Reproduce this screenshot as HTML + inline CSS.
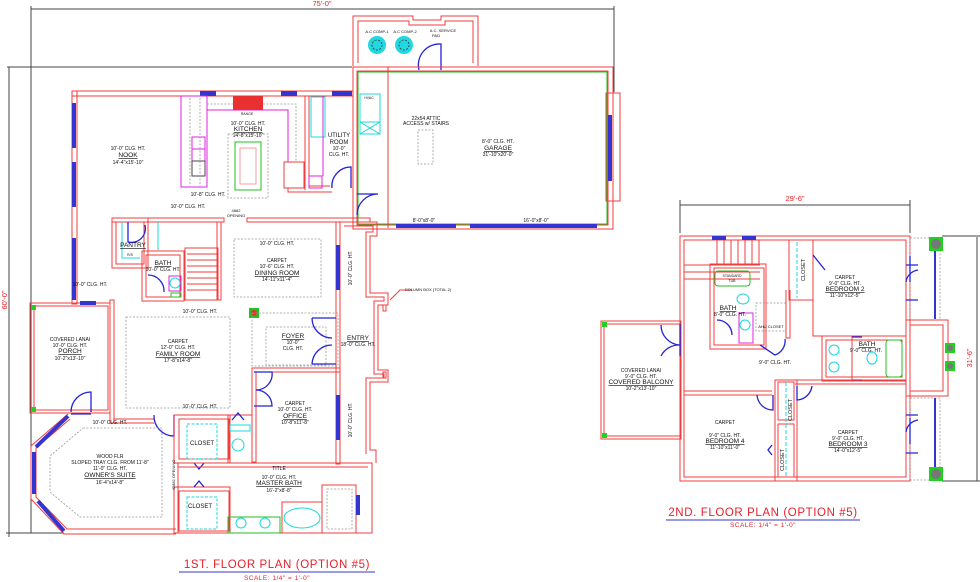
<!DOCTYPE html>
<html><head><meta charset="utf-8"><style>
html,body{margin:0;padding:0;background:#fff;width:980px;height:582px;overflow:hidden}
svg{display:block}
.w{fill:none;stroke:#f03c3c;stroke-width:1}
.r{fill:none;stroke:#f03c3c;stroke-width:1}
.b{fill:#3434d0;stroke:none}
.bl{fill:none;stroke:#2323d8;stroke-width:1.3}
.g{fill:none;stroke:#20c020;stroke-width:1}
.c{fill:none;stroke:#19d8e0;stroke-width:1}
.m{fill:none;stroke:#e020e0;stroke-width:1}
.d{fill:none;stroke:#999;stroke-width:0.8;stroke-dasharray:2,1.5}
.k{fill:none;stroke:#444;stroke-width:1}
text{font-family:"Liberation Sans",sans-serif;font-size:5px;fill:#111;text-anchor:middle}
.u{text-decoration:underline;font-size:6.5px}
.t{fill:#e8202a;font-size:7.5px}
</style></head><body>
<svg width="980" height="582" viewBox="0 0 980 582" xmlns="http://www.w3.org/2000/svg">
<line class="k" x1="31" y1="9" x2="614" y2="9"/>
<line class="k" x1="31" y1="6" x2="31" y2="533"/>
<line class="k" x1="614" y1="6" x2="614" y2="92"/>
<line class="k" x1="7" y1="67" x2="352" y2="67"/>
<line class="k" x1="9" y1="67" x2="9" y2="537"/>
<line class="k" x1="6" y1="533" x2="64" y2="533"/>
<text class="t" x="322" y="6">75'-0"</text>
<text class="t" transform="translate(7,300) rotate(-90)">60'-0"</text>

<path class="w" d="M353,66 V16 H413 V20 H441 V16 H478 V66 M358,63 V21 H409 V25 H445 V21 H473 V63"/>
<circle cx="377" cy="45" r="9" fill="#22d8e0"/><circle cx="377" cy="45" r="5" fill="none" stroke="#333" stroke-width="0.8" stroke-dasharray="2,1.5"/>
<circle cx="404" cy="45" r="9" fill="#22d8e0"/><circle cx="404" cy="45" r="5" fill="none" stroke="#333" stroke-width="0.8" stroke-dasharray="2,1.5"/>
<text x="377" y="33" style="font-size:4px">A.C COMP-1</text><text x="405" y="33" style="font-size:4px">A.C COMP-2</text><text x="443" y="32" style="font-size:4px">A.C. SERVICE</text><text x="436" y="37" style="font-size:4px">PAD</text>
<path class="bl" d="M419,70 A21,21 0 0 1 441,44 V70"/>

<rect class="w" x="353" y="67" width="260" height="162"/>
<rect class="w" x="357" y="71" width="251" height="154"/>
<rect class="g" x="358" y="72" width="249" height="152"/>
<line class="w" x1="388" y1="67" x2="388" y2="228"/>
<rect class="w" x="606" y="93" width="14" height="108"/>
<rect class="b" x="608" y="115" width="4" height="66"/>
<rect class="b" x="396" y="224" width="60" height="4"/><rect class="b" x="470" y="224" width="127" height="4"/>
<rect class="c" x="360" y="94" width="20" height="40"/><path class="c" d="M360,122 L380,134 M380,122 L360,134 M360,122 H380"/>
<text x="369" y="99" style="font-size:3.5px">HVAC</text>
<rect class="d" x="418" y="130" width="15" height="34"/>
<text x="426" y="120">22x54 ATTIC</text><text x="426" y="125">ACCESS w/ STAIRS</text>
<text x="498" y="143">8'-0" CLG. HT.</text><text x="498" y="150" class="u">GARAGE</text><text x="498" y="156">31'-10"x20'-0"</text>
<text x="424" y="222">8'-0"x8'-0"</text><text x="536" y="222">16'-0"x8'-0"</text>
<path class="bl" d="M357,215 A21,21 0 0 1 378,194 H357"/>

<rect class="w" x="72" y="91" width="281" height="5"/>
<rect class="b" x="200" y="91" width="16" height="5"/><rect class="b" x="281" y="91" width="16" height="5"/><rect class="b" x="332" y="91" width="20" height="5"/>
<rect class="w" x="72" y="91" width="5" height="213"/>
<rect class="b" x="72" y="103" width="4" height="45"/><rect class="b" x="72" y="162" width="4" height="45"/><rect class="b" x="72" y="238" width="4" height="62"/>
<text x="128" y="150">10'-0" CLG. HT.</text><text x="128" y="157" class="u">NOOK</text><text x="128" y="164">14'-4"x15'-10"</text>
<rect class="m" x="181" y="96" width="26" height="91"/>
<rect class="m" x="192" y="137" width="13" height="12"/><rect class="m" x="192" y="149" width="13" height="12"/>
<rect class="k" x="192" y="161" width="13" height="15"/>
<path class="m" d="M207,96 V110 H288 V162"/>
<path class="d" d="M190,98 V186 M200,98 V186 M207,104 H296 V162"/>
<rect x="233" y="96" width="30" height="14" fill="#e83030"/>
<text x="247" y="115" style="font-size:3.5px">RANGE</text>
<text x="248" y="125">10'-0" CLG. HT.</text><text x="248" y="131" class="u">KITCHEN</text><text x="248" y="137">14'-8"x15'-10"</text>
<rect class="d" x="228" y="134" width="40" height="64"/>
<rect class="g" x="235" y="142" width="26" height="48"/><rect x="240" y="148" width="16" height="36" fill="none" stroke="#e88" stroke-width="0.8"/>
<rect class="w" x="284" y="162" width="20" height="26"/>
<text x="208" y="196">10'-8" CLG. HT.</text><text x="188" y="208">10'-0" CLG. HT.</text>
<text x="236" y="212" style="font-size:4px">4882</text><text x="236" y="217" style="font-size:4px">OPENING</text>
<path class="w" d="M305,96 V190 M309,96 V186 H330 M288,188 V192 H332"/>
<rect class="c" x="311" y="97" width="14" height="40"/><rect class="m" x="309" y="176" width="13" height="12"/><path class="m" d="M323,96 V176"/>
<text x="339" y="137" style="font-size:6px">UTILITY</text><text x="339" y="144" style="font-size:6px">ROOM</text><text x="339" y="150">10'-0"</text><text x="339" y="156">CLG. HT.</text>
<path class="bl" d="M332,188 A19,19 0 0 1 351,167 V188"/>

<path class="w" d="M112,218 H224 V222 H112 Z M247,218 H370 V222 H247 Z"/>
<rect class="w" x="112" y="218" width="36" height="50"/><rect class="w" x="116" y="222" width="28" height="42"/>
<path class="c" d="M122,222 V258 H140 M158,222 V250"/>
<path class="bl" d="M128,222 V242 A14,14 0 0 0 145,225"/>
<text x="133" y="247" class="u">PANTRY</text><text x="130" y="256" style="font-size:3.5px">R/S</text>
<rect class="w" x="142" y="251" width="42" height="50"/><rect class="w" x="146" y="255" width="34" height="42"/>
<rect class="m" x="169" y="276" width="12" height="15"/><circle class="c" cx="175" cy="283" r="5"/><rect class="g" x="171" y="293" width="10" height="4"/>
<text x="163" y="265" class="u">BATH</text><text x="163" y="271">10'-0" CLG. HT.</text>
<path class="bl" d="M148,275 A16,16 0 0 1 164,292"/>
<rect class="w" x="185" y="248" width="33" height="52"/>
<path class="r" d="M187,254 H217 M187,260 H217 M187,266 H217 M187,272 H217 M187,278 H217 M187,284 H217 M187,290 H217"/>
<rect class="w" x="217" y="222" width="4" height="78"/>
<text x="90" y="286">10'-0" CLG. HT.</text>
<rect class="d" x="234" y="239" width="87" height="58"/>
<text x="277" y="245">10'-0" CLG. HT.</text><text x="277" y="262">CARPET</text><text x="277" y="268">10'-6" CLG. HT.</text><text x="277" y="275" class="u">DINING ROOM</text><text x="277" y="281">14'-11"x11'-4"</text>
<rect class="w" x="336" y="222" width="4" height="242"/>
<rect class="b" x="336" y="245" width="4" height="45"/><rect class="b" x="336" y="395" width="4" height="45"/>
<path class="w" d="M340,222 H377 V236 H370 V293 H388 V305 H378 V370 H388 V382 H370 V450 H376 V463 M344,226 H373 V232 H366 V297 H384 V301 H374 V374 H384 V378 H366 V454"/>
<rect class="w" x="383" y="305" width="3" height="6"/><rect class="w" x="383" y="372" width="3" height="6"/>
<text transform="translate(352,268) rotate(-90)">10'-0" CLG. HT.</text>
<text transform="translate(352,420) rotate(-90)">10'-0" CLG. HT.</text>
<text x="358" y="340" class="u">ENTRY</text><text x="358" y="346">18'-0" CLG. HT.</text>
<path d="M390,300 L400,290 H412" fill="none" stroke="#f03c3c"/><text x="428" y="291" style="font-size:4px">COLUMN BOX (TOTAL 2)</text>
<rect x="249" y="308" width="10" height="10" fill="#22c022"/><circle cx="254" cy="313" r="3" fill="#e83030"/>
<rect class="d" x="252" y="313" width="86" height="53"/><rect class="d" x="266" y="327" width="60" height="38"/>
<text x="293" y="338" class="u">FOYER</text><text x="293" y="344">10'-0"</text><text x="293" y="350">CLG. HT.</text>
<path class="bl" d="M312,318 H336 M312,364 H336 M312,318 A20,20 0 0 0 332,338 M312,364 A20,20 0 0 1 332,345"/>
<rect class="d" x="126" y="317" width="104" height="91"/>
<text x="200" y="313">10'-0" CLG. HT.</text><text x="178" y="343">CARPET</text><text x="178" y="349">12'-0" CLG. HT.</text><text x="178" y="356" class="u">FAMILY ROOM</text><text x="178" y="362">17'-8"x14'-8"</text>
<rect class="w" x="30" y="303" width="80" height="110"/><rect class="w" x="34" y="306" width="74" height="104"/>
<rect class="w" x="110" y="300" width="4" height="123"/>
<rect x="31" y="305" width="5" height="5" fill="#22d022"/><rect x="31" y="407" width="5" height="5" fill="#22d022"/>
<rect class="b" x="80" y="301" width="16" height="4"/>
<text x="70" y="341">COVERED LANAI</text><text x="70" y="347">10'-0" CLG. HT.</text><text x="70" y="353" class="u">PORCH</text><text x="70" y="360">10'-2"x13'-10"</text>
<path class="bl" d="M71,412 A20,20 0 0 1 91,392 V412 M71,414 H91"/>
<path class="w" d="M252,368 H340 V372 H256 V462 H252 Z"/>
<path class="bl" d="M254,372 H272 A16,16 0 0 1 256,390 A16,16 0 0 1 272,406 H254"/>
<text x="295" y="405">CARPET</text><text x="295" y="411">10'-0" CLG. HT.</text><text x="295" y="418" class="u">OFFICE</text><text x="295" y="424">10'-8"x11'-8"</text>
<text x="200" y="408">10'-0" CLG. HT.</text>
<path class="w" d="M110,413 V423 H154 M114,417 V419 H154"/>
<path class="bl" d="M154,415 A20,20 0 0 0 174,436 V415"/>
<rect class="w" x="174" y="415" width="56" height="48"/><rect class="w" x="179" y="419" width="50" height="40"/>
<rect class="c" x="187" y="424" width="30" height="35" stroke-dasharray="3,1.5"/>
<text x="202" y="445" style="font-size:6px">CLOSET</text>
<rect class="w" x="228" y="415" width="24" height="48"/><rect class="c" x="230" y="425" width="20" height="6"/><circle class="c" cx="238" cy="445" r="6"/>
<path class="bl" d="M232,420 L238,413 L244,420"/>
<rect class="w" x="174" y="487" width="56" height="46"/><rect class="w" x="179" y="491" width="50" height="40"/>
<rect class="c" x="187" y="497" width="30" height="32" stroke-dasharray="3,1.5"/>
<text x="200" y="508" style="font-size:6px">CLOSET</text>
<path class="bl" d="M194,463 L199,469 L204,463 M194,487 L199,481 L204,487"/>
<path class="w" d="M174,463 H372 V533 H174 M178,467 H368"/>
<rect class="w" x="178" y="463" width="194" height="70"/>
<rect class="w" x="282" y="502" width="40" height="31"/><ellipse class="c" cx="302" cy="518" rx="18" ry="10"/>
<rect class="w" x="322" y="485" width="34" height="48"/><rect class="d" x="327" y="489" width="25" height="40"/>
<rect class="g" x="228" y="517" width="52" height="16"/><circle class="c" cx="241" cy="523" r="5"/><circle class="c" cx="265" cy="523" r="5"/>
<rect class="b" x="356" y="495" width="4" height="20"/>
<text x="279" y="470">TITLE</text><text x="279" y="479">10'-0" CLG. HT.</text><text x="279" y="485" class="u">MASTER BATH</text><text x="279" y="492">16'-2"x8'-8"</text>
<text transform="translate(175,475) rotate(-90)" style="font-size:4px">42882 OPENING</text>
<path class="w" d="M68,414 L31,446 V499 L64,534 H176 M70,419 L36,448 V497 L67,529 H176"/>
<path d="M68,416 L36,447 M34,452 V494 M38,501 L64,531" stroke="#3434d0" stroke-width="4" fill="none"/>
<path class="d" d="M83,428 H162 V517 H80 L50,492 V456 Z"/>
<text x="110" y="424">10'-0" CLG. HT.</text><text x="110" y="458">WOOD FLR</text><text x="110" y="464">SLOPED TRAY CLG. FROM 11'-8"</text><text x="110" y="470">11'-0" CLG. HT.</text><text x="110" y="477" class="u">OWNER'S SUITE</text><text x="110" y="484">16'-4"x14'-8"</text>
<text x="277" y="568" style="font-size:11.5px;fill:#e8202a;letter-spacing:0.6px">1ST. FLOOR PLAN (OPTION #5)</text>
<line x1="179" y1="572" x2="375" y2="572" stroke="#3434d0" stroke-width="1"/>
<text x="277" y="580" style="font-size:6.5px;fill:#e8202a;letter-spacing:0.5px">SCALE: 1/4"  =  1'-0"</text>

<line class="k" x1="680" y1="205" x2="910" y2="205"/><line class="k" x1="680" y1="200" x2="680" y2="233"/><line class="k" x1="910" y1="200" x2="910" y2="233"/>
<text class="t" x="795" y="201">29'-6"</text>
<line class="k" x1="977" y1="237" x2="977" y2="481"/><line class="k" x1="942" y1="236" x2="980" y2="236"/><line class="k" x1="942" y1="481" x2="980" y2="481"/>
<text class="t" transform="translate(972,358) rotate(-90)">31'-6"</text>
<rect class="w" x="680" y="236" width="230" height="245"/><rect class="w" x="684" y="240" width="222" height="237"/>
<rect class="b" x="712" y="236" width="14" height="4"/><rect class="b" x="742" y="236" width="14" height="4"/>
<rect class="d" x="910" y="238" width="30" height="82"/><rect class="d" x="910" y="398" width="30" height="82"/>
<rect class="b" x="934" y="243" width="2" height="76"/><rect class="b" x="934" y="398" width="2" height="76"/>
<path class="w" d="M906,320 H948 V396 H906 M910,325 H943 V391 H910"/>
<rect x="929" y="237" width="14" height="14" fill="#22d022"/><circle cx="936" cy="244" r="5" fill="#777"/>
<rect x="929" y="467" width="14" height="14" fill="#22d022"/><circle cx="936" cy="474" r="5" fill="#777"/>
<rect x="945" y="343" width="10" height="10" fill="#22d022"/><circle cx="950" cy="348" r="3" fill="#777"/>
<rect x="945" y="361" width="10" height="10" fill="#22d022"/><circle cx="950" cy="366" r="3" fill="#777"/>
<path class="bl" d="M906,265 H918 M906,300 H918 M906,415 H918 M906,453 H918 M910,256 V282 M910,418 V444"/>
<path class="bl" d="M906,282 A14,14 0 0 1 918,270 M906,432 A14,14 0 0 1 918,420"/>
<path class="r" d="M684,265 H760 M684,272 H760 M684,279 H760 M717,240 V265 M724,240 V265 M731,240 V265 M738,240 V265 M745,240 V265 M752,240 V265 M759,240 V265"/>
<rect class="w" x="710" y="264" width="56" height="85"/><rect class="w" x="714" y="268" width="50" height="77"/>
<rect class="g" x="715" y="271" width="35" height="15" rx="3"/><text x="732" y="277" style="font-size:3.5px">STANDARD</text><text x="732" y="282" style="font-size:3.5px">TUB</text>
<ellipse class="c" cx="743" cy="299" rx="6" ry="5"/><rect class="m" x="739" y="313" width="14" height="30"/><circle class="c" cx="745" cy="325" r="5"/>
<text x="728" y="310" class="u">BATH</text><text x="730" y="316">8'-0" CLG. HT.</text>
<path class="bl" d="M717,320 A15,15 0 0 1 732,335"/>
<rect class="d" x="756" y="303" width="30" height="28"/><text x="771" y="328" style="font-size:4px">AHU CLOSET</text>
<path class="w" d="M786,290 V338 H790 V290"/>
<path class="bl" d="M760,345 L775,355 A15,15 0 0 0 785,339"/>
<rect class="w" x="789" y="240" width="24" height="60"/><path class="c" d="M797,242 V298" stroke-dasharray="4,2"/>
<text transform="translate(805,270) rotate(-90)" style="font-size:5.5px">CLOSET</text>
<path class="bl" d="M813,255 L825,270"/>
<text x="845" y="279">CARPET</text><text x="845" y="285">9'-0" CLG. HT.</text><text x="845" y="291" class="u">BEDROOM 2</text><text x="845" y="297">11'-10"x12'-5"</text>
<path class="w" d="M813,300 V336 H906 M789,300 H813"/>
<rect class="w" x="822" y="336" width="84" height="45"/><rect class="w" x="826" y="340" width="76" height="37"/>
<rect class="w" x="822" y="336" width="30" height="45"/>
<rect class="g" x="886" y="340" width="16" height="37" rx="3"/><ellipse class="c" cx="872" cy="358" rx="5" ry="6"/>
<circle class="c" cx="834" cy="350" r="5"/><circle class="c" cx="834" cy="367" r="5"/>
<text x="867" y="346" class="u">BATH</text><text x="866" y="352">9'-0" CLG. HT.</text>
<path class="bl" d="M852,337 H862 M852,380 H862"/>
<text x="775" y="364">9'-0" CLG. HT.</text>
<rect class="w" x="601" y="321" width="80" height="118"/><rect class="w" x="604" y="324" width="76" height="112"/>
<rect x="602" y="322" width="5" height="5" fill="#22d022"/><rect x="602" y="433" width="5" height="5" fill="#22d022"/>
<path class="bl" d="M680,324 V356 M661,325 A20,20 0 0 0 680,345 M661,356 A20,20 0 0 1 680,345"/>
<text x="641" y="372">COVERED LANAI</text><text x="641" y="378">9'-0" CLG. HT.</text><text x="641" y="384" class="u">COVERED BALCONY</text><text x="641" y="390">10'-2"x13'-10"</text>
<path class="w" d="M684,391 H772 M684,395 H772 M795,380 H906 M795,384 H906"/>
<rect class="w" x="775" y="380" width="22" height="101"/><rect class="w" x="778" y="382" width="16" height="38"/><rect class="w" x="778" y="424" width="16" height="53"/>
<path class="c" d="M786,382 V477" stroke-dasharray="4,2"/>
<text transform="translate(792,410) rotate(-90)" style="font-size:5.5px">CLOSET</text>
<text transform="translate(784,460) rotate(-90)" style="font-size:5.5px">CLOSET</text>
<path class="bl" d="M773,395 V410 A16,16 0 0 1 757,395 M797,386 V400 A16,16 0 0 0 812,386 M772,445 L768,450 L772,455"/>
<text x="725" y="424">CARPET</text><text x="725" y="437">9'-0" CLG. HT.</text><text x="725" y="443" class="u">BEDROOM 4</text><text x="725" y="449">11'-10"x11'-0"</text>
<text x="848" y="434">CARPET</text><text x="848" y="440">9'-0" CLG. HT.</text><text x="848" y="446" class="u">BEDROOM 3</text><text x="848" y="452">14'-0"x12'-5"</text>
<text x="763" y="516" style="font-size:11.5px;fill:#e8202a;letter-spacing:0.6px">2ND. FLOOR PLAN (OPTION #5)</text>
<line x1="666" y1="520" x2="860" y2="520" stroke="#3434d0" stroke-width="1"/>
<text x="763" y="527" style="font-size:6.5px;fill:#e8202a;letter-spacing:0.5px">SCALE: 1/4"  =  1'-0"</text>
</svg>
</body></html>
